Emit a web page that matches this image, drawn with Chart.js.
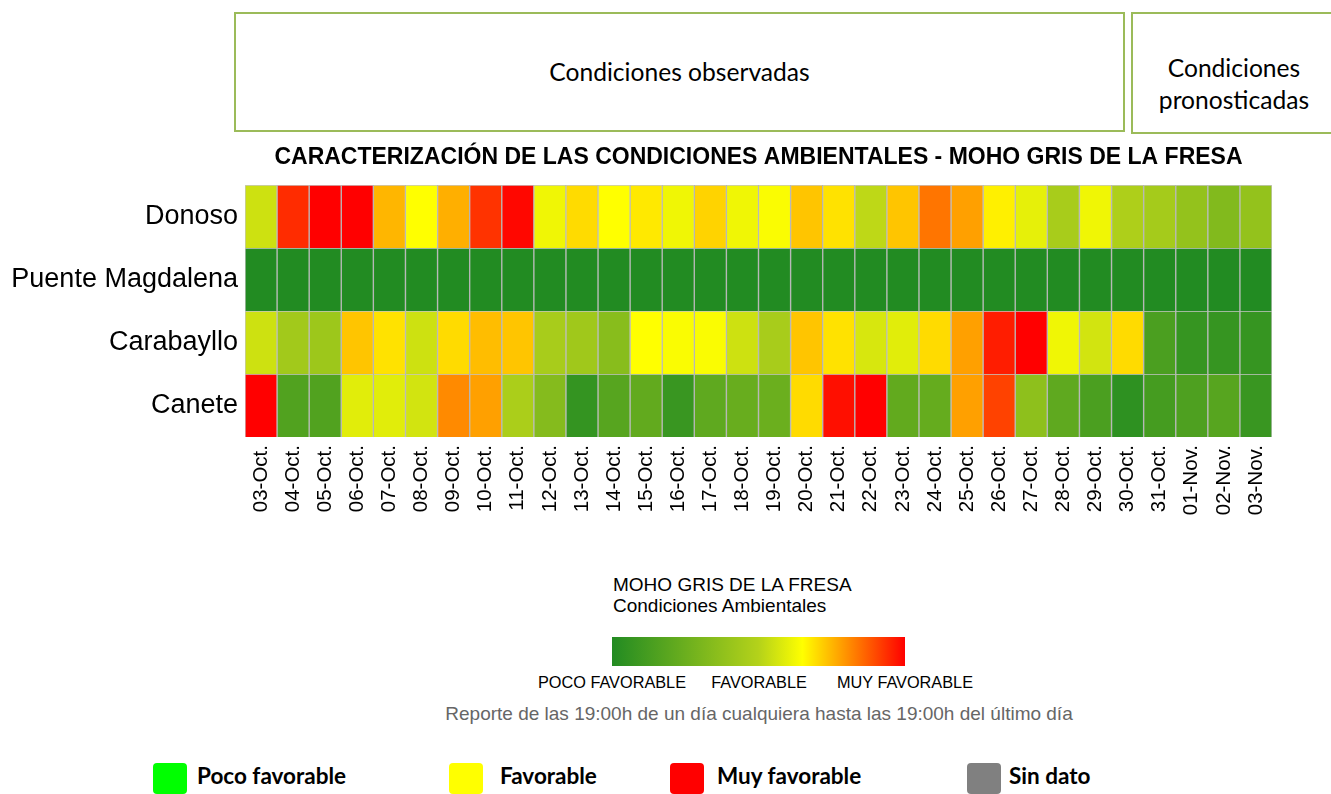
<!DOCTYPE html>
<html>
<head>
<meta charset="utf-8">
<script src="https://cdn.jsdelivr.net/npm/chart.js"></script>
<style>
  html, body { margin: 0; padding: 0; background: #fff; overflow: hidden; }
  body { width: 1331px; height: 794px; position: relative; font-family: "Liberation Sans", Arial, sans-serif; }
  .box { position: absolute; border: 2px solid #9bbb59; box-sizing: border-box; display: flex;
         align-items: center; justify-content: center; text-align: center;
         font-family: Lato, sans-serif; font-size: 24.6px; line-height: 32px; color: #000; }
  #chartBox { position: absolute; left: 0; top: 130px; width: 1300px; height: 397px; }
  .abs { position: absolute; white-space: nowrap; line-height: 1; }
  .sq { position: absolute; width: 34px; height: 31px; border-radius: 4px; top: 763px; }
  .lg { position: absolute; top: 765px; font-family: Lato, sans-serif; font-weight: bold; font-size: 22.5px; line-height: 1; }
</style>
</head>
<body>
<div class="box" style="left:234px; top:12px; width:891px; height:120px;">Condiciones observadas</div>
<div class="box" style="left:1131px; top:12px; width:206px; height:122px; padding-top:22px;">Condiciones<br>pronosticadas</div>

<div id="chartBox"><canvas id="heatChart"></canvas></div>

<div class="abs" style="left:613px; top:575px; font-size:19px;">MOHO GRIS DE LA FRESA</div>
<div class="abs" style="left:613px; top:596px; font-size:19px;">Condiciones Ambientales</div>
<div id="gradBar" class="abs" style="left:612px; top:637px; width:293px; height:29px;"></div>
<div class="abs" style="left:612px; top:674px; font-size:16.3px; transform:translateX(-50%);">POCO FAVORABLE</div>
<div class="abs" style="left:759px; top:674px; font-size:16.3px; transform:translateX(-50%);">FAVORABLE</div>
<div class="abs" style="left:905px; top:674px; font-size:16.3px; transform:translateX(-50%);">MUY FAVORABLE</div>
<div class="abs" style="left:759px; top:704px; font-size:19px; color:#666; transform:translateX(-50%);">Reporte de las 19:00h de un día cualquiera hasta las 19:00h del último día</div>

<div class="sq" style="left:153px; background:#00ff00;"></div>
<div class="lg" style="left:197px;">Poco favorable</div>
<div class="sq" style="left:449px; background:#ffff00;"></div>
<div class="lg" style="left:500px;">Favorable</div>
<div class="sq" style="left:670px; background:#ff0000;"></div>
<div class="lg" style="left:717px;">Muy favorable</div>
<div class="sq" style="left:967px; background:#808080;"></div>
<div class="lg" style="left:1009px;">Sin dato</div>

<script>
// Dates and stations
const fechas = ['03-Oct.', '04-Oct.', '05-Oct.', '06-Oct.', '07-Oct.', '08-Oct.', '09-Oct.', '10-Oct.',
    '11-Oct.', '12-Oct.', '13-Oct.', '14-Oct.', '15-Oct.', '16-Oct.', '17-Oct.', '18-Oct.', '19-Oct.',
    '20-Oct.', '21-Oct.', '22-Oct.', '23-Oct.', '24-Oct.', '25-Oct.', '26-Oct.', '27-Oct.', '28-Oct.',
    '29-Oct.', '30-Oct.', '31-Oct.', '01-Nov.', '02-Nov.', '03-Nov.'];
const estaciones = ['Donoso', 'Puente Magdalena', 'Carabayllo', 'Canete'];

// Condition index 0 (poco favorable) .. 100 (muy favorable)
const donoso = [55, 94, 100, 100, 75, 65, 76, 93, 99, 62, 70, 65, 68, 62, 71, 62,
    64, 73, 69, 52, 73, 84, 78, 67, 60, 46, 62, 48, 45, 39, 33, 39];
const puenteMagdalena = [0, 0, 0, 0, 0, 0, 0, 0, 0, 0, 0, 0, 0, 0, 0, 0,
    0, 0, 0, 0, 0, 0, 0, 0, 0, 0, 0, 0, 0, 0, 0, 0];
const carabayllo = [55, 44, 42, 73, 69, 55, 70, 74, 73, 46, 43, 35, 65, 64, 64, 55,
    46, 73, 69, 57, 59, 70, 78, 96, 100, 62, 56, 70, 14, 7, 7, 7];
const canete = [100, 16, 16, 59, 59, 56, 81, 78, 47, 34, 6, 18, 22, 8, 21, 24,
    25, 70, 98, 100, 22, 23, 78, 91, 37, 21, 14, 4, 12, 15, 18, 8];

// colour scale
const paradas = [
    [0, [34, 139, 34]],
    [50, [180, 210, 26]],
    [65, [255, 255, 0]],
    [100, [255, 0, 0]]
];

function colorDe(v) {
    for (let i = 1; i < paradas.length; i++) {
        const [v1, c1] = paradas[i];
        const [v0, c0] = paradas[i - 1];
        if (v <= v1) {
            const t = (v - v0) / (v1 - v0);
            const c = c0.map((x, k) => Math.round(x + (c1[k] - x) * t));
            return 'rgb(' + c.join(',') + ')';
        }
    }
    return 'rgb(255,0,0)';
}

document.getElementById('gradBar').style.background = 'linear-gradient(to right, ' +
    paradas.map(p => colorDe(p[0]) + ' ' + p[0] + '%').join(', ') + ')';

// bottom row first so Donoso ends up on top
const filas = [canete, carabayllo, puenteMagdalena, donoso];

const tituloPlugin = {
    id: 'tituloArea',
    afterDraw(chart) {
        const { ctx, chartArea } = chart;
        ctx.save();
        ctx.font = 'bold 23px "Liberation Sans", Arial, sans-serif';
        ctx.fillStyle = '#000';
        ctx.textAlign = 'center';
        ctx.textBaseline = 'middle';
        ctx.fillText('CARACTERIZACIÓN DE LAS CONDICIONES AMBIENTALES - MOHO GRIS DE LA FRESA',
            (chartArea.left + chartArea.right) / 2, chartArea.top - 27);
        ctx.restore();
    }
};

const heatCtx = document.getElementById('heatChart').getContext('2d');
new Chart(heatCtx, {
    type: 'bar',
    data: {
        labels: fechas,
        datasets: filas.map(fila => ({
            data: fechas.map(() => 1),
            backgroundColor: fila.map(colorDe),
            borderColor: 'rgba(90,90,90,0.35)',
            borderWidth: 1,
            barPercentage: 1,
            categoryPercentage: 1
        }))
    },
    options: {
        responsive: true,
        maintainAspectRatio: false,
        animation: false,
        layout: { padding: { top: 55, right: 28, left: 0, bottom: 0 } },
        plugins: {
            legend: { display: false },
            tooltip: { enabled: false }
        },
        scales: {
            x: {
                stacked: true,
                grid: { display: false, tickLength: 0 },
                border: { display: false },
                ticks: {
                    color: '#000',
                    padding: 8,
                    font: { size: 20.5, family: '"Liberation Sans", Arial' },
                    minRotation: 90,
                    maxRotation: 90,
                    autoSkip: false
                },
                afterFit(scale) { scale.height = 90; }
            },
            y: {
                stacked: true,
                min: 0,
                max: 4,
                grid: { display: false, tickLength: 0 },
                border: { display: false },
                afterBuildTicks(scale) {
                    scale.ticks = [0.5, 1.5, 2.5, 3.5].map(v => ({ value: v }));
                },
                ticks: {
                    color: '#000',
                    padding: 7,
                    font: { size: 27, family: '"Liberation Sans", Arial' },
                    callback: v => estaciones[3 - Math.floor(v)]
                },
                afterFit(scale) { scale.width = 245; }
            }
        }
    },
    plugins: [tituloPlugin]
});
</script>
</body>
</html>
